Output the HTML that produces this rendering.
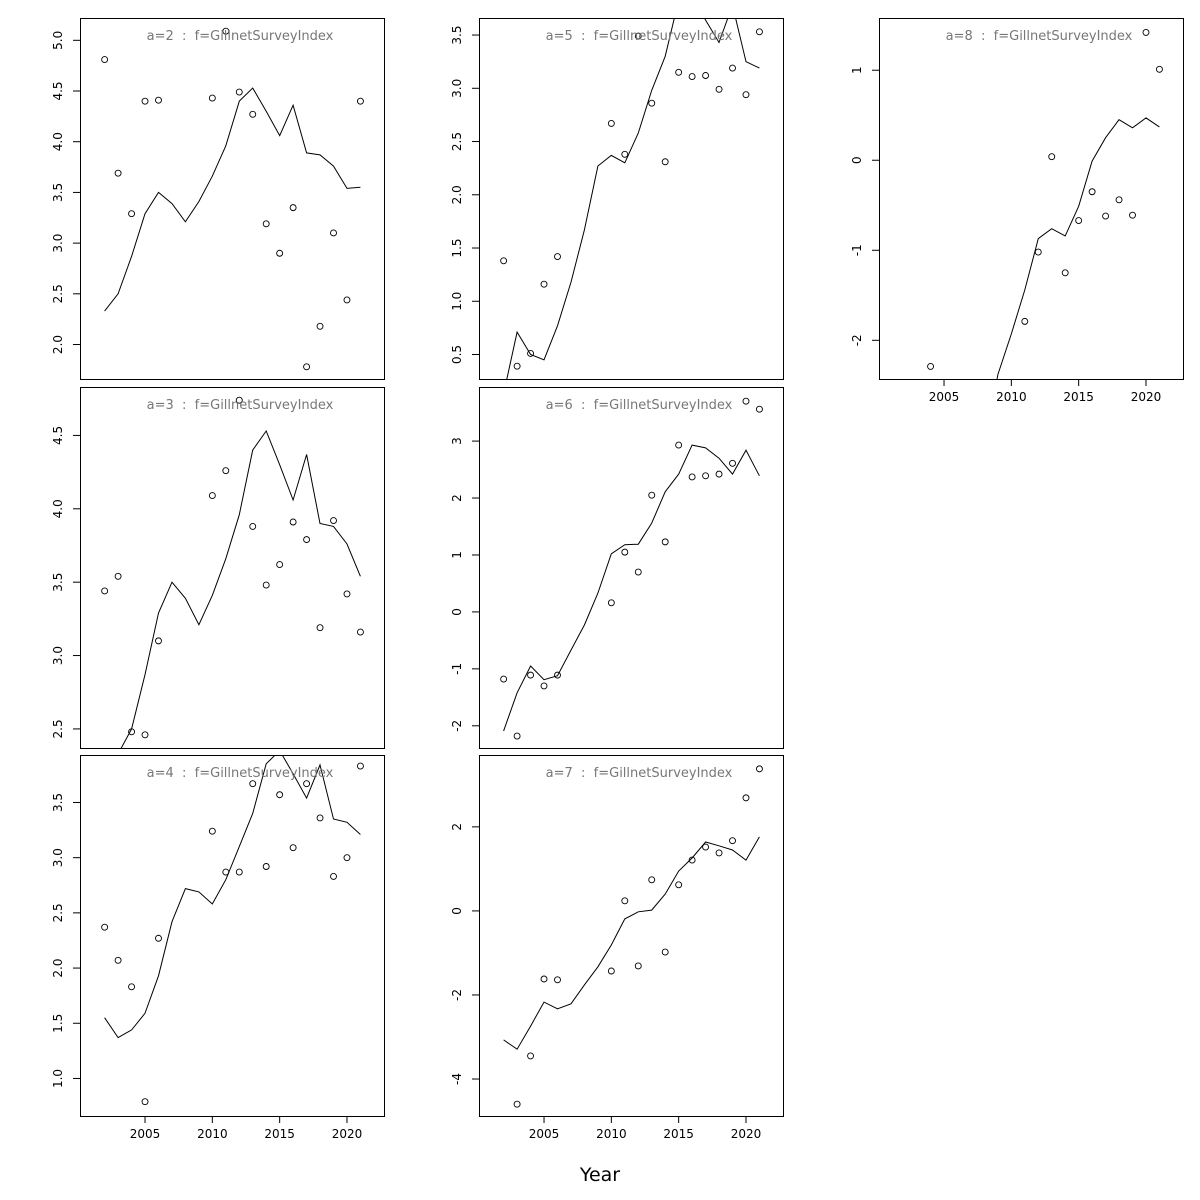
<!DOCTYPE html>
<html><head><meta charset="utf-8"><style>
html,body{margin:0;padding:0;background:#fff;}
svg{display:block;font-family:"DejaVu Sans","Liberation Sans",sans-serif;}
</style></head><body>
<svg id="chart" width="1200" height="1200" viewBox="0 0 1200 1200" xmlns="http://www.w3.org/2000/svg">
<text x="600" y="1181" font-size="19" text-anchor="middle">Year</text>
</svg>
<script>
const years = [2002,2003,2004,2005,2006,2007,2008,2009,2010,2011,2012,2013,2014,2015,2016,2017,2018,2019,2020,2021];
const xTicks = [2005,2010,2015,2020];

const obsYears2 = [2002,2003,2004,2005,2006,2010,2011,2012,2013,2014,2015,2016,2017,2018,2019,2020,2021];
const obs2 = [4.81,3.69,3.29,4.40,4.41,4.43,5.09,4.49,4.27,3.19,2.90,3.35,1.78,2.18,3.10,2.44,4.40];
const fit2 = [2.33,2.50,2.87,3.29,3.50,3.39,3.21,3.41,3.66,3.96,4.40,4.53,4.30,4.06,4.36,3.89,3.87,3.76,3.54,3.55];
const ticks2 = [2.0,2.5,3.0,3.5,4.0,4.5,5.0];

const obsYears3 = [2002,2003,2004,2005,2006,2010,2011,2012,2013,2014,2015,2016,2017,2018,2019,2020,2021];
const obs3 = [3.44,3.54,2.48,2.46,3.10,4.09,4.26,4.74,3.88,3.48,3.62,3.91,3.79,3.19,3.92,3.42,3.16];
const fit3 = [2.10,2.33,2.50,2.87,3.29,3.50,3.39,3.21,3.41,3.66,3.96,4.40,4.53,4.30,4.06,4.37,3.90,3.88,3.76,3.54];
const ticks3 = [2.5,3.0,3.5,4.0,4.5];

const obsYears4 = [2002,2003,2004,2005,2006,2010,2011,2012,2013,2014,2015,2016,2017,2018,2019,2020,2021];
const obs4 = [2.37,2.07,1.83,0.79,2.27,3.24,2.87,2.87,3.67,2.92,3.57,3.09,3.67,3.36,2.83,3.00,3.83];
const fit4 = [1.55,1.37,1.44,1.59,1.93,2.42,2.72,2.69,2.58,2.80,3.10,3.40,3.85,3.97,3.76,3.54,3.84,3.35,3.32,3.21];
const ticks4 = [1.0,1.5,2.0,2.5,3.0,3.5];

const obsYears5 = [2002,2003,2004,2005,2006,2010,2011,2012,2013,2014,2015,2016,2017,2018,2019,2020,2021];
const obs5 = [1.38,0.39,0.51,1.16,1.42,2.67,2.38,3.49,2.86,2.31,3.15,3.11,3.12,2.99,3.19,2.94,3.53];
const fit5 = [0.13,0.71,0.50,0.45,0.77,1.18,1.67,2.27,2.37,2.30,2.58,2.98,3.30,3.83,3.87,3.64,3.43,3.78,3.25,3.19];
const ticks5 = [0.5,1.0,1.5,2.0,2.5,3.0,3.5];

const obsYears6 = [2002,2003,2004,2005,2006,2010,2011,2012,2013,2014,2015,2016,2017,2018,2019,2020,2021];
const obs6 = [-1.18,-2.18,-1.11,-1.30,-1.11,0.16,1.05,0.70,2.05,1.23,2.93,2.37,2.39,2.42,2.61,3.70,3.56];
const fit6 = [-2.09,-1.42,-0.95,-1.19,-1.12,-0.67,-0.23,0.33,1.02,1.18,1.19,1.56,2.11,2.42,2.93,2.88,2.70,2.42,2.84,2.39];
const ticks6 = [-2,-1,0,1,2,3];

const obsYears7 = [2003,2004,2005,2006,2010,2011,2012,2013,2014,2015,2016,2017,2018,2019,2020,2021];
const obs7 = [-4.60,-3.45,-1.62,-1.64,-1.43,0.24,-1.31,0.74,-0.98,0.62,1.21,1.52,1.38,1.67,2.69,3.38];
const fit7 = [-3.07,-3.29,-2.74,-2.17,-2.33,-2.21,-1.76,-1.33,-0.81,-0.19,-0.02,0.02,0.40,0.95,1.26,1.64,1.55,1.45,1.21,1.76];
const ticks7 = [-4,-2,0,2];

const obsYears8 = [2004,2011,2012,2013,2014,2015,2016,2017,2018,2019,2020,2021];
const obs8 = [-2.29,-1.79,-1.02,0.04,-1.25,-0.67,-0.35,-0.62,-0.44,-0.61,1.42,1.01];
const fit8 = [-4.0,-4.0,-4.0,-3.9,-3.8,-3.6,-3.2,-2.38,-1.93,-1.44,-0.87,-0.76,-0.84,-0.51,-0.01,0.25,0.45,0.36,0.47,0.37];
const ticks8 = [-2,-1,0,1];

const panels = [
 {a:2,col:0,row:0,obsY:obsYears2,obs:obs2,fit:fit2,ticks:ticks2,ymin:1.66,ymax:5.22,xlab:false},
 {a:3,col:0,row:1,obsY:obsYears3,obs:obs3,fit:fit3,ticks:ticks3,ymin:2.37,ymax:4.83,xlab:false},
 {a:4,col:0,row:2,obsY:obsYears4,obs:obs4,fit:fit4,ticks:ticks4,ymin:0.66,ymax:3.93,xlab:true},
 {a:5,col:1,row:0,obsY:obsYears5,obs:obs5,fit:fit5,ticks:ticks5,ymin:0.27,ymax:3.66,xlab:false},
 {a:6,col:1,row:1,obsY:obsYears6,obs:obs6,fit:fit6,ticks:ticks6,ymin:-2.39,ymax:3.95,xlab:false},
 {a:7,col:1,row:2,obsY:obsYears7,obs:obs7,fit:fit7,ticks:ticks7,ymin:-4.88,ymax:3.71,xlab:true},
 {a:8,col:2,row:0,obsY:obsYears8,obs:obs8,fit:fit8,ticks:ticks8,ymin:-2.43,ymax:1.58,xlab:true}
];
const NS="http://www.w3.org/2000/svg";
const svg=document.getElementById('chart');
function mk(tag,attrs,parent){const e=document.createElementNS(NS,tag);for(const k in attrs)e.setAttribute(k,attrs[k]);(parent||svg).appendChild(e);return e;}
const colL=[80,479,879], rowT=[18,387,755], W=304, H=361;
const XMIN=2000.17, XMAX=2022.75;
panels.forEach(p=>{
  const L=colL[p.col], T=rowT[p.row];
  const g=mk('g',{});
  
  
  const xs=v=>L+(v-XMIN)/(XMAX-XMIN)*W;
  const ys=v=>T+H-(v-p.ymin)/(p.ymax-p.ymin)*H;
  const cid='clip'+p.a;
  const cp=mk('clipPath',{id:cid},g); mk('rect',{x:L,y:T,width:W,height:H},cp);
  const pts=years.map((y,i)=>xs(y).toFixed(1)+','+ys(p.fit[i]).toFixed(1)).join(' ');
  const line=mk('polyline',{points:pts,fill:'none',stroke:'#000','stroke-width':1,'clip-path':'url(#'+cid+')'},g);
  
  
  p.obsY.forEach((y,i)=>{
    const c=mk('circle',{cx:xs(y),cy:ys(p.obs[i]),r:3,fill:'none',stroke:'#000','stroke-width':0.9},g);
    
    
  });
  const box=mk('rect',{x:L+0.5,y:T+0.5,width:W,height:H,fill:'none',stroke:'#000','stroke-width':1},g);
  
  
  const t=mk('text',{x:L+W/2+8,y:T+22,'font-size':13,fill:'#777','text-anchor':'middle'},g);
  t.textContent='a='+p.a+'\u00a0 : \u00a0f=GillnetSurveyIndex';
  
  
  p.ticks.forEach(v=>{
    const y=ys(v);
    mk('line',{x1:L-7,x2:L,y1:y,y2:y,stroke:'#000'},g);
    const lb=mk('text',{x:0,y:0,'font-size':12,'text-anchor':'middle',transform:'translate('+(L-18)+','+y+') rotate(-90)'},g);
    lb.textContent=(Math.abs(p.ymax-p.ymin)<5 && p.ticks[1]-p.ticks[0]<1)?v.toFixed(1):String(v);
    
    
  });
  mk('line',{x1:L+0.5,x2:L+0.5,y1:ys(p.ticks[0]),y2:ys(p.ticks[p.ticks.length-1]),stroke:'#000'},g);
  if(p.xlab){
    mk('line',{x1:xs(xTicks[0]),x2:xs(xTicks[xTicks.length-1]),y1:T+H+0.5,y2:T+H+0.5,stroke:'#000'},g);
    xTicks.forEach(v=>{
      const x=xs(v);
      mk('line',{x1:x,x2:x,y1:T+H,y2:T+H+7,stroke:'#000'},g);
      const lb=mk('text',{x:x,y:T+H+22,'font-size':12,'text-anchor':'middle'},g);
      lb.textContent=String(v);
      
      
    });
  }
});
</script>
</body></html>
